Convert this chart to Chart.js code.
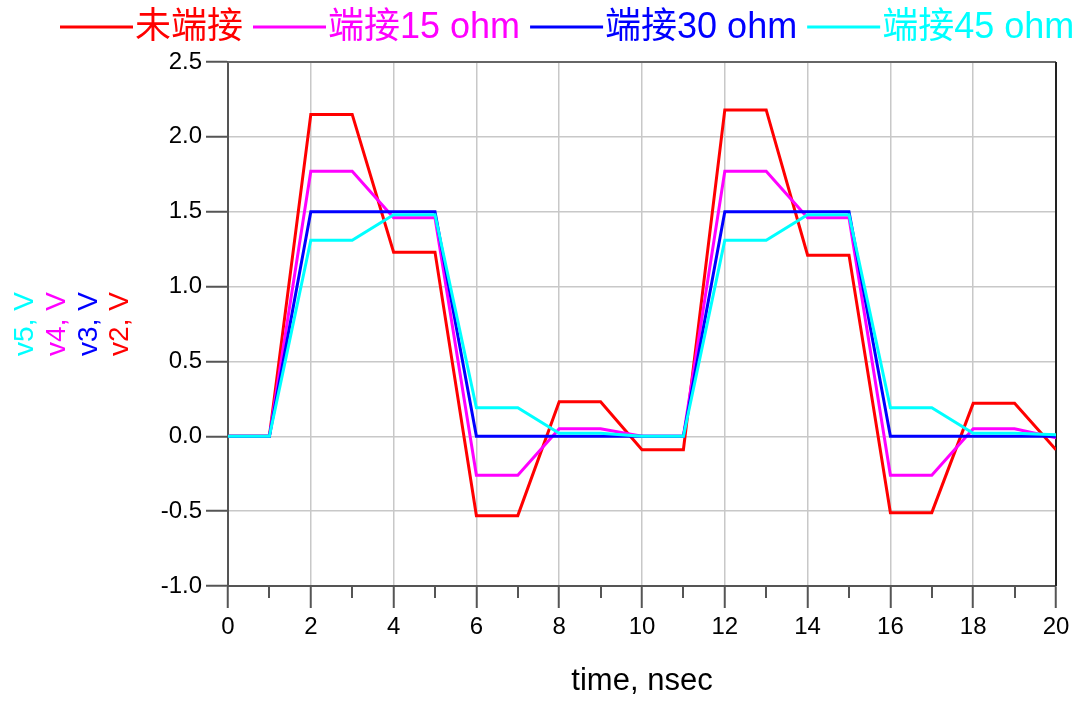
<!DOCTYPE html>
<html>
<head>
<meta charset="utf-8">
<script src="https://cdn.jsdelivr.net/npm/chart.js@4.4.0/dist/chart.umd.min.js"></script>
<style>
html,body{margin:0;padding:0;background:#ffffff;}
canvas{display:block;}
</style>
</head>
<body>
<canvas id="c" width="1083" height="701"></canvas>
<script>
// ---- data ----
const timeNs = [0,1,2,3,4,5,6,7,8,9,10,11,12,13,14,15,16,17,18,19,20];
const v2 = [0,0,2.15,2.15,1.23,1.23,-0.53,-0.53,0.23,0.23,-0.09,-0.09,2.18,2.18,1.21,1.21,-0.51,-0.51,0.22,0.22,-0.09];
const v4 = [0,0,1.77,1.77,1.46,1.46,-0.26,-0.26,0.05,0.05,0,0,1.77,1.77,1.46,1.46,-0.26,-0.26,0.05,0.05,-0.01];
const v3 = [0,0,1.5,1.5,1.5,1.5,0,0,0,0,0,0,1.5,1.5,1.5,1.5,0,0,0,0,0];
const v5 = [0,0,1.31,1.31,1.48,1.48,0.19,0.19,0.02,0.02,0,0,1.31,1.31,1.48,1.48,0.19,0.19,0.02,0.02,0.01];
const seriesNames = ['未端接','端接15 ohm','端接30 ohm','端接45 ohm'];
const seriesAxisNames = ['v2, V','v4, V','v3, V','v5, V'];
const xTickStep = 2;
const yTickStep = 0.5;
const xTitle = 'time, nsec';

const seriesValues = [v2, v4, v3, v5];
const seriesColors = ['#ff0000','#ff00ff','#0000ff','#00ffff'];
const FAMILY = '"Liberation Sans", Arial, "Noto Sans CJK SC", sans-serif';

const topLegend = {
  id: 'topLegend',
  afterDraw(chart) {
    const ctx = chart.ctx;
    ctx.save();
    ctx.font = '36px ' + FAMILY;
    ctx.textBaseline = 'middle';
    ctx.textAlign = 'left';
    let x = 60;
    chart.data.datasets.forEach(ds => {
      ctx.strokeStyle = ds.borderColor;
      ctx.lineWidth = 3;
      ctx.beginPath();
      ctx.moveTo(x, 27);
      ctx.lineTo(x + 73, 27);
      ctx.stroke();
      ctx.fillStyle = ds.borderColor;
      ctx.fillText(ds.label, x + 75, 28);
      x += 75 + ctx.measureText(ds.label).width + 10;
    });
    ctx.restore();
  }
};

const yTitles = {
  id: 'yTitles',
  afterDraw(chart) {
    const ctx = chart.ctx;
    const area = chart.chartArea;
    const cy = (area.top + area.bottom) / 2;
    // left to right: v5, v4, v3, v2
    const order = [3, 1, 2, 0];
    const baseX = [33, 65, 97, 128];
    ctx.save();
    ctx.font = '28px ' + FAMILY;
    ctx.textAlign = 'center';
    ctx.textBaseline = 'alphabetic';
    order.forEach((idx, k) => {
      ctx.save();
      ctx.translate(baseX[k], cy);
      ctx.rotate(-Math.PI / 2);
      ctx.fillStyle = chart.data.datasets[idx].borderColor;
      ctx.fillText(seriesAxisNames[idx], 0, 0);
      ctx.restore();
    });
    ctx.restore();
  }
};

const frameAndMinor = {
  id: 'frameAndMinor',
  beforeDatasetsDraw(chart) {
    const ctx = chart.ctx;
    const a = chart.chartArea;
    const xs = chart.scales.x;
    ctx.save();
    ctx.lineWidth = 2;
    ctx.strokeStyle = '#666666';
    ctx.beginPath();
    ctx.moveTo(a.left, a.top);
    ctx.lineTo(a.right, a.top);
    ctx.stroke();
    ctx.strokeStyle = '#222222';
    ctx.beginPath();
    ctx.moveTo(a.right, a.top);
    ctx.lineTo(a.right, a.bottom);
    ctx.stroke();
    // minor ticks on x axis
    ctx.strokeStyle = '#555555';
    for (let t = xs.min + 1; t < xs.max; t += xTickStep) {
      const px = Math.round(xs.getPixelForValue(t));
      ctx.beginPath();
      ctx.moveTo(px, a.bottom);
      ctx.lineTo(px, a.bottom + 12);
      ctx.stroke();
    }
    ctx.restore();
  }
};

new Chart(document.getElementById('c'), {
  type: 'line',
  data: {
    datasets: seriesNames.map((name, i) => ({
      label: name,
      data: timeNs.map((t, j) => ({x: t, y: seriesValues[i][j]})),
      borderColor: seriesColors[i],
      backgroundColor: seriesColors[i],
      borderWidth: 3,
      pointRadius: 0,
      tension: 0,
      fill: false,
      order: 4 - i
    }))
  },
  options: {
    responsive: false,
    animation: false,
    devicePixelRatio: 1,
    layout: {padding: {top: 62, right: 27, left: 0, bottom: 0}},
    plugins: {legend: {display: false}, tooltip: {enabled: false}},
    scales: {
      x: {
        type: 'linear', min: 0, max: 20,
        ticks: {stepSize: xTickStep, color: '#000', font: {size: 24, family: FAMILY}, padding: 5, maxRotation: 0, autoSkip: false},
        grid: {color: '#c8c8c8', lineWidth: 1.5, tickLength: 22, tickColor: '#555555', tickWidth: 2},
        border: {display: true, color: '#555555', width: 2},
        title: {display: true, text: xTitle, color: '#000', font: {size: 31, family: FAMILY}, padding: {top: 0, bottom: 1}},
        afterFit(s) { s.height = 115; }
      },
      y: {
        min: -1, max: 2.5,
        ticks: {stepSize: yTickStep, color: '#000', font: {size: 24, family: FAMILY}, padding: 4, callback: v => Number(v).toFixed(1)},
        grid: {color: '#c8c8c8', lineWidth: 1.5, tickLength: 22, tickColor: '#555555', tickWidth: 2},
        border: {display: true, color: '#555555', width: 2},
        afterFit(s) { s.width = 228; }
      }
    }
  },
  plugins: [frameAndMinor, yTitles, topLegend]
});
</script>
</body>
</html>
